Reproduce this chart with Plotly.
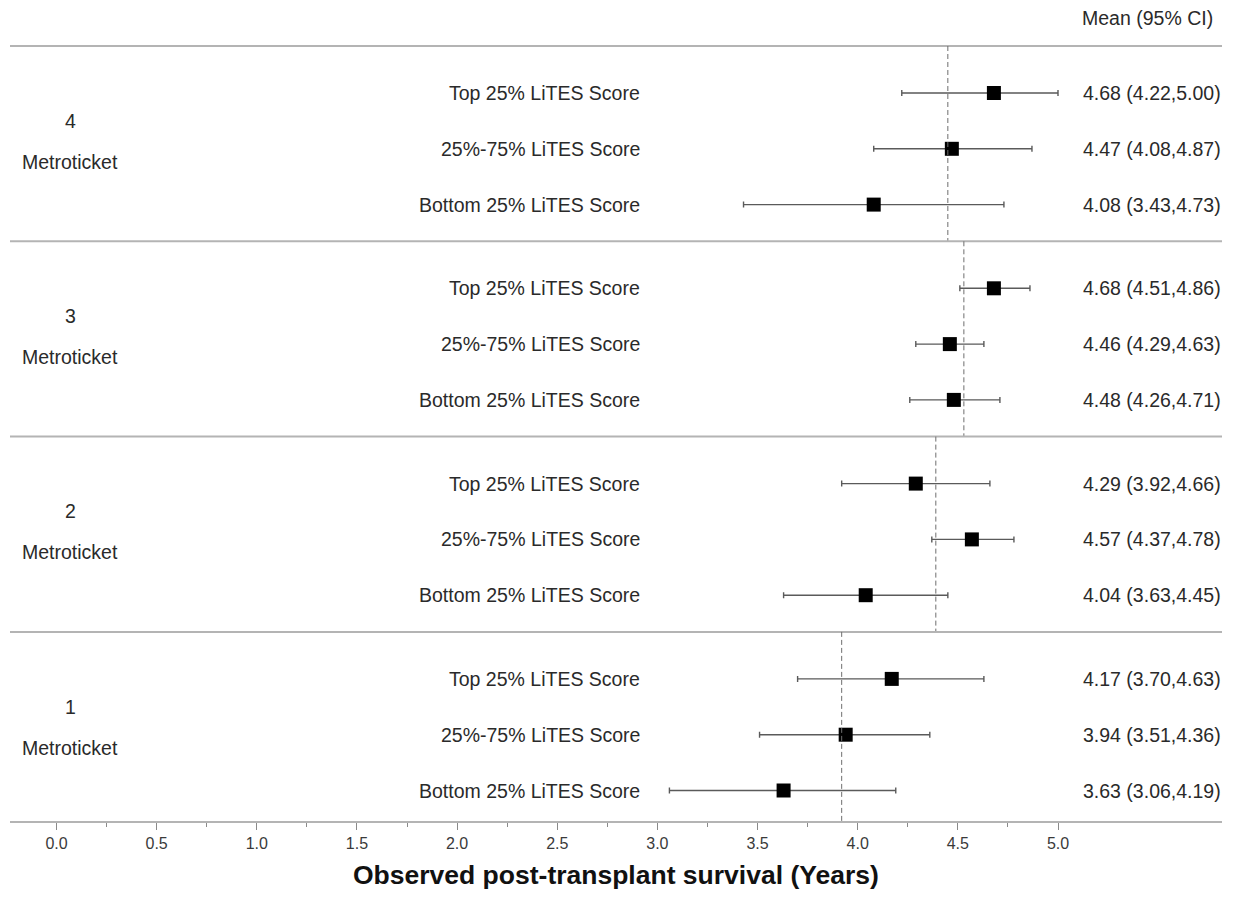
import plotly.graph_objects as go

# ---- data ----
groups = ["4", "3", "2", "1"]
group_name = "Metroticket"
rows = ["Top 25% LiTES Score", "25%-75% LiTES Score", "Bottom 25% LiTES Score"]

mean_g4 = [4.68, 4.47, 4.08]
low_g4 = [4.22, 4.08, 3.43]
high_g4 = [5.00, 4.87, 4.73]

mean_g3 = [4.68, 4.46, 4.48]
low_g3 = [4.51, 4.29, 4.26]
high_g3 = [4.86, 4.63, 4.71]

mean_g2 = [4.29, 4.57, 4.04]
low_g2 = [3.92, 4.37, 3.63]
high_g2 = [4.66, 4.78, 4.45]

mean_g1 = [4.17, 3.94, 3.63]
low_g1 = [3.70, 3.51, 3.06]
high_g1 = [4.63, 4.36, 4.19]

ref_lines = [4.45, 4.53, 4.39, 3.92]   # dashed group reference lines

x_ticks = [0.0, 0.5, 1.0, 1.5, 2.0, 2.5, 3.0, 3.5, 4.0, 4.5, 5.0]
x_tick_labels = ["0.0", "0.5", "1.0", "1.5", "2.0", "2.5", "3.0", "3.5", "4.0", "4.5", "5.0"]
x_minor = [0.25, 0.75, 1.25, 1.75, 2.25, 2.75, 3.25, 3.75, 4.25, 4.75]

x_title = "Observed post-transplant survival (Years)"
ci_header = "Mean (95% CI)"

means = [mean_g4, mean_g3, mean_g2, mean_g1]
lows = [low_g4, low_g3, low_g2, low_g1]
highs = [high_g4, high_g3, high_g2, high_g1]

# ---- layout constants (screen pixels; page body has an 8px margin) ----
BODY = 8
FIG_W, FIG_H = 1220, 890
PLOT_L, PLOT_R = 10, 1222
PLOT_TOP, PLOT_BOTTOM = 8, 821
TOP = 46.0
GROUP_H = 195.3
PAD = 47.0
ROW_STEP = 55.8
X0_PX, X5_PX = 56.5, 1058.0
PX_PER_UNIT = (X5_PX - X0_PX) / 5.0
x_min = -(X0_PX - PLOT_L) / PX_PER_UNIT
x_max = 5.0 + (PLOT_R - X5_PX) / PX_PER_UNIT

FONT = "Liberation Sans, Arial, sans-serif"
TXT = "#2a2a2a"
FS = 19.5

xs, ys, ep, em = [], [], [], []
for g in range(len(groups)):
    for r in range(len(rows)):
        xs.append(means[g][r])
        ys.append(TOP + g * GROUP_H + PAD + r * ROW_STEP)
        ep.append(highs[g][r] - means[g][r])
        em.append(means[g][r] - lows[g][r])

fig = go.Figure()
fig.add_trace(go.Scatter(
    x=xs, y=ys, mode="markers",
    marker=dict(symbol="square", size=14, color="black"),
    error_x=dict(type="data", symmetric=False, array=ep, arrayminus=em,
                 color="#5a5a5a", thickness=1.4, width=3),
    showlegend=False, hoverinfo="x",
))

shapes = []
annotations = []


def px_to_paper(px):
    return (px - PLOT_L) / (PLOT_R - PLOT_L)


for g in range(len(groups)):
    gtop = TOP + g * GROUP_H
    gbot = min(gtop + GROUP_H, PLOT_BOTTOM)
    shapes.append(dict(type="line", xref="paper", yref="y", x0=0, x1=1, y0=gtop, y1=gtop,
                       line=dict(color="#b4b4b4", width=2)))
    shapes.append(dict(type="line", xref="x", yref="y", x0=ref_lines[g], x1=ref_lines[g],
                       y0=gtop, y1=gbot, line=dict(color="#6e6e6e", width=1, dash="5px,3px")))
    mid = gtop + GROUP_H / 2
    annotations.append(dict(text=groups[g], xref="paper", yref="y", x=px_to_paper(70), y=mid - 23,
                            showarrow=False, xanchor="center", yanchor="middle",
                            font=dict(family=FONT, size=FS, color=TXT)))
    annotations.append(dict(text=group_name, xref="paper", yref="y", x=px_to_paper(70), y=mid + 18,
                            showarrow=False, xanchor="center", yanchor="middle",
                            font=dict(family=FONT, size=FS, color=TXT)))
    for r in range(len(rows)):
        yy = gtop + PAD + r * ROW_STEP
        annotations.append(dict(text=rows[r], xref="paper", yref="y", x=px_to_paper(642), y=yy,
                                showarrow=False, xanchor="right", yanchor="middle",
                                font=dict(family=FONT, size=FS, color=TXT)))
        label = f"{means[g][r]:.2f} ({lows[g][r]:.2f},{highs[g][r]:.2f})"
        annotations.append(dict(text=label, xref="paper", yref="y", x=px_to_paper(1081), y=yy,
                                showarrow=False, xanchor="left", yanchor="middle",
                                font=dict(family=FONT, size=FS, color=TXT)))

annotations.append(dict(text=ci_header, xref="paper", yref="y", x=px_to_paper(1080), y=18,
                        showarrow=False, xanchor="left", yanchor="middle",
                        font=dict(family=FONT, size=FS, color=TXT)))
annotations.append(dict(text=f"<b>{x_title}</b>", xref="paper", yref="paper", x=0.5, y=0,
                        yshift=-(875 - PLOT_BOTTOM), showarrow=False, xanchor="center", yanchor="middle",
                        font=dict(family=FONT, size=26.5, color="#111111")))

fig.update_layout(
    width=FIG_W, height=FIG_H,
    margin=dict(l=PLOT_L - BODY, r=(BODY + FIG_W) - PLOT_R, t=PLOT_TOP - BODY,
                b=(BODY + FIG_H) - PLOT_BOTTOM, pad=0),
    paper_bgcolor="white", plot_bgcolor="white",
    shapes=shapes, annotations=annotations,
    xaxis=dict(range=[x_min, x_max], showgrid=False, zeroline=False,
               showline=True, linecolor="#b4b4b4", linewidth=2,
               tickmode="array", tickvals=x_ticks, ticktext=x_tick_labels,
               ticks="outside", ticklen=7, tickwidth=1, tickcolor="#8a8a8a",
               tickfont=dict(family=FONT, size=16, color="#3a3a3a"),
               minor=dict(tickmode="array", tickvals=x_minor, ticks="outside",
                          ticklen=4, tickwidth=1, tickcolor="#8a8a8a", showgrid=False)),
    yaxis=dict(range=[PLOT_BOTTOM, PLOT_TOP], visible=False, showgrid=False, zeroline=False),
)

fig.write_html("out.html")
